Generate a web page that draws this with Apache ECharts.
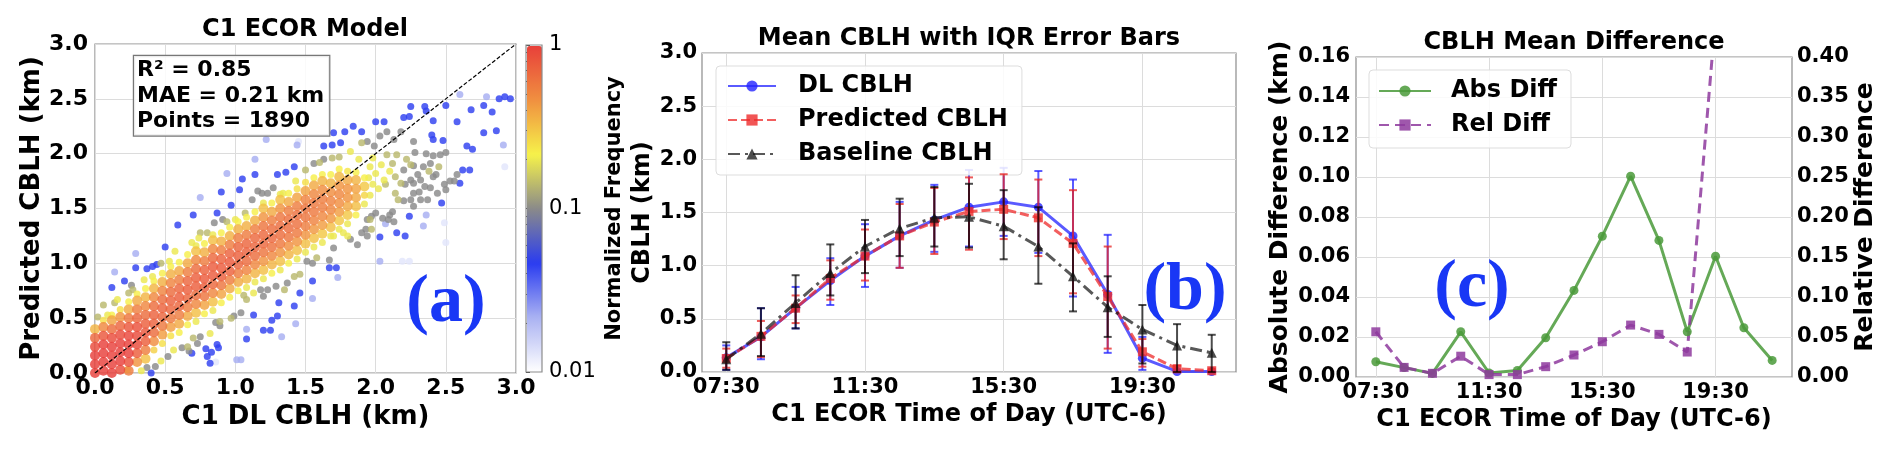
<!DOCTYPE html>
<html><head><meta charset="utf-8">
<script src="https://cdn.jsdelivr.net/npm/echarts@6/dist/echarts.min.js"></script>
<style>html,body{margin:0;padding:0;background:#fff}#c{width:1892px;height:452px}</style>
</head><body><div id="c"></div><script>
// ---------- Panel (a) data: [x, [y...], [normalized frequency...]] columns of the dense band ----------
const bandColumns = [
 [0.00,[0.00,0.08,0.16,0.24,0.32,0.40],[1,1,1,.9,.7,.35]],
 [0.06,[0.02,0.10,0.18,0.26,0.34,0.42,0.48],[1,1,1,1,.8,.5,.25]],
 [0.12,[0.00,0.08,0.16,0.24,0.32,0.40,0.48,0.53],[1,1,1,1,.9,.65,.4,.22]],
 [0.18,[0.03,0.11,0.19,0.27,0.35,0.43,0.51,0.58],[.9,1,1,1,.9,.7,.45,.25]],
 [0.24,[0.02,0.10,0.18,0.26,0.34,0.42,0.50,0.58,0.65],[.55,.85,1,1,.95,.8,.6,.38,.22]],
 [0.30,[0.10,0.18,0.26,0.34,0.42,0.50,0.58,0.66,0.72],[.45,.75,.9,.9,.85,.7,.55,.38,.22]],
 [0.36,[0.13,0.21,0.29,0.37,0.45,0.53,0.61,0.69,0.77],[.32,.55,.75,.8,.75,.65,.5,.35,.22]],
 [0.42,[0.21,0.29,0.37,0.45,0.53,0.61,0.69,0.77,0.84],[.28,.48,.65,.72,.72,.65,.5,.35,.22]],
 [0.48,[0.27,0.35,0.43,0.51,0.59,0.67,0.75,0.83,0.91],[.25,.42,.58,.7,.72,.66,.52,.36,.22]],
 [0.54,[0.34,0.42,0.50,0.58,0.66,0.74,0.82,0.90,0.97],[.25,.42,.58,.7,.72,.66,.52,.36,.22]],
 [0.60,[0.37,0.45,0.53,0.61,0.69,0.77,0.85,0.93,1.01],[.22,.38,.56,.7,.75,.7,.55,.38,.22]],
 [0.66,[0.44,0.52,0.60,0.68,0.76,0.84,0.92,1.00,1.08],[.22,.38,.56,.7,.75,.7,.55,.38,.22]],
 [0.72,[0.47,0.55,0.63,0.71,0.79,0.87,0.95,1.03,1.11,1.16],[.2,.32,.5,.65,.75,.75,.65,.5,.32,.2]],
 [0.78,[0.54,0.62,0.70,0.78,0.86,0.94,1.02,1.10,1.18],[.22,.4,.6,.75,.78,.72,.56,.36,.22]],
 [0.84,[0.57,0.65,0.73,0.81,0.89,0.97,1.05,1.13,1.21,1.26],[.2,.32,.5,.68,.78,.78,.68,.5,.32,.2]],
 [0.90,[0.64,0.72,0.80,0.88,0.96,1.04,1.12,1.20,1.28],[.22,.4,.6,.75,.78,.72,.56,.36,.22]],
 [0.96,[0.69,0.77,0.85,0.93,1.01,1.09,1.17,1.25,1.33],[.22,.38,.56,.72,.78,.72,.56,.36,.22]],
 [1.02,[0.75,0.83,0.91,0.99,1.07,1.15,1.23,1.31,1.38],[.22,.38,.56,.7,.74,.7,.56,.36,.22]],
 [1.08,[0.78,0.86,0.94,1.02,1.10,1.18,1.26,1.34,1.42],[.2,.35,.53,.67,.72,.7,.56,.36,.22]],
 [1.14,[0.83,0.91,0.99,1.07,1.15,1.23,1.31,1.39,1.47],[.2,.35,.5,.65,.7,.68,.55,.36,.22]],
 [1.20,[0.86,0.94,1.02,1.10,1.18,1.26,1.34,1.42,1.50,1.55],[.2,.32,.45,.6,.68,.68,.6,.45,.32,.2]],
 [1.26,[0.91,0.99,1.07,1.15,1.23,1.31,1.39,1.47,1.55],[.22,.35,.5,.62,.68,.65,.55,.38,.22]],
 [1.32,[0.94,1.02,1.10,1.18,1.26,1.34,1.42,1.50,1.58,1.63],[.2,.32,.45,.58,.65,.65,.6,.45,.32,.2]],
 [1.38,[1.00,1.08,1.16,1.24,1.32,1.40,1.48,1.56,1.64],[.22,.35,.48,.6,.65,.63,.55,.38,.22]],
 [1.44,[1.04,1.12,1.20,1.28,1.36,1.44,1.52,1.60,1.68],[.2,.32,.45,.58,.63,.63,.55,.4,.25]],
 [1.50,[1.10,1.18,1.26,1.34,1.42,1.50,1.58,1.66,1.74],[.2,.32,.45,.55,.6,.6,.53,.4,.25]],
 [1.56,[1.15,1.23,1.31,1.39,1.47,1.55,1.63,1.71,1.78],[.2,.32,.44,.53,.58,.58,.5,.38,.22]],
 [1.62,[1.19,1.27,1.35,1.43,1.51,1.59,1.67,1.75,1.81],[.2,.3,.42,.5,.55,.55,.48,.35,.22]],
 [1.68,[1.25,1.33,1.41,1.49,1.57,1.65,1.73,1.81],[.2,.32,.44,.5,.52,.48,.35,.22]],
 [1.74,[1.31,1.39,1.47,1.55,1.63,1.71,1.79,1.86],[.2,.3,.42,.48,.5,.45,.34,.22]],
 [1.80,[1.36,1.44,1.52,1.60,1.68,1.76,1.84],[.2,.3,.38,.45,.45,.38,.24]],
 [1.86,[1.44,1.52,1.60,1.68,1.76,1.83],[.22,.32,.38,.4,.35,.22]],
 [1.92,[1.54,1.62,1.70,1.78],[.2,.27,.3,.22]]
];
// Sparse points [x, y] grouped by their normalized frequency
const blueDensity = 0.045;
const bluePoints = [[2.25,2.43],[2.35,2.43],[2.36,2.39],[2.41,2.30],[2.50,2.44],[2.68,2.40],[2.58,2.29],[2.69,2.04],[2.65,2.07],[2.62,1.85],[2.60,1.73],[2.67,1.85],[2.40,2.17],[2.41,2.13],[2.48,2.12],[2.47,1.55],[2.24,1.43],[2.15,1.28],[2.21,1.25],[2.03,1.24],[2.00,2.29],[2.06,2.29],[2.20,2.33],[2.24,2.34],[1.90,2.20],[1.84,2.25],[1.78,2.20],[1.70,2.19],[1.63,2.07],[1.69,2.08],[1.75,2.10],[1.42,1.88],[1.36,1.83],[1.30,1.81],[1.14,1.81],[1.03,1.67],[1.05,1.77],[0.90,1.65],[0.97,1.53],[0.87,1.46],[0.70,1.44],[0.59,1.35],[0.50,1.15],[0.44,0.99],[0.41,0.97],[0.37,0.95],[0.29,0.96],[0.21,0.84],[0.12,0.78],[1.72,0.96],[1.67,0.96],[1.55,0.84],[1.46,0.73],[1.42,0.61],[1.31,0.64],[1.30,0.52],[1.26,0.48],[1.25,0.39],[1.20,0.39],[1.13,0.53],[1.08,0.31],[0.87,0.26],[0.88,0.23],[0.79,0.22],[0.83,0.19],[0.80,0.15],[0.82,0.09],[0.69,0.18],[0.40,0.00],[2.77,2.44],[2.83,2.38],[2.88,2.50],[2.92,2.52],[2.96,2.50],[2.77,2.19],[2.86,2.21]];
const lightBlueDensity = 0.022;
const lightBluePoints = [[2.60,2.54],[2.36,1.44],[1.22,2.13],[1.14,1.95],[0.94,1.82],[0.75,1.60],[0.29,1.09],[0.14,0.92],[1.73,0.87],[1.55,0.68],[1.43,0.45],[1.08,0.40],[1.04,0.12],[1.01,0.12],[1.33,0.33],[2.03,1.02],[2.34,1.34],[2.79,2.52],[2.91,2.08],[1.44,2.08],[2.07,1.36]];
const faintDensity = 0.013;
const faintPoints = [[1.27,2.22],[2.19,1.02],[2.24,1.02],[2.50,1.19],[2.49,1.37],[2.92,1.88],[1.45,2.11],[0.86,0.10]];
const grayDensity = 0.1;
const grayPoints = [[2.03,2.16],[2.08,2.20],[2.18,2.20],[2.13,2.13],[2.27,2.11],[2.28,2.01],[2.36,2.00],[2.41,1.98],[2.46,1.99],[2.50,2.01],[2.39,1.91],[2.34,1.88],[2.27,1.89],[2.20,1.85],[2.43,1.81],[2.41,1.79],[2.30,1.81],[2.25,1.76],[2.32,1.76],[2.27,1.73],[2.21,1.72],[2.35,1.70],[2.39,1.69],[2.44,1.64],[2.49,1.72],[2.53,1.75],[2.50,1.67],[2.56,1.75],[2.58,1.81],[2.27,1.64],[2.31,1.65],[2.20,1.57],[2.25,1.58],[2.32,1.58],[2.37,1.58],[2.27,1.52],[2.12,1.47],[2.05,1.41],[2.09,1.40],[2.13,1.38],[2.00,1.46],[1.94,1.40],[1.93,1.31],[1.90,1.28],[1.82,1.22],[1.87,1.17],[1.94,2.11],[1.99,2.07],[1.63,1.95],[1.56,1.91],[1.16,1.66],[1.19,1.64],[1.23,1.64],[1.27,1.69],[1.12,1.58],[0.91,1.40],[0.85,1.37],[0.26,0.80],[1.67,1.03],[1.94,1.25],[1.70,1.14],[1.51,1.02],[1.55,1.00],[1.37,0.82],[1.29,0.79],[1.23,0.76],[1.20,0.70],[1.18,0.76],[1.04,0.55],[0.99,0.52],[0.89,0.43],[0.86,0.46],[0.75,0.33],[0.73,0.27],[0.62,0.23],[0.52,0.15],[0.43,0.06],[0.37,0.05],[0.67,0.20],[1.97,1.43],[2.10,1.44]];
const oliveDensity = 0.14;
const olivePoints = [[1.90,2.10],[1.74,1.97],[1.69,1.96],[1.50,1.85],[1.07,1.46],[0.94,1.38],[0.80,1.28],[0.75,1.28],[0.47,1.00],[0.27,0.76],[0.24,0.73],[0.14,0.64],[0.06,0.62],[0.02,0.51],[1.96,1.40],[1.97,1.31],[1.58,1.05],[1.46,0.90],[1.42,0.88],[1.35,0.76],[1.08,0.67],[1.06,0.71],[0.97,0.50],[0.89,0.47],[0.70,0.32],[0.66,0.24],[2.08,1.99],[2.12,1.91],[2.15,1.99],[2.14,1.79],[2.18,1.73],[2.25,1.90],[2.07,1.72],[2.14,1.64],[2.16,1.58],[2.22,1.95],[2.38,1.84],[2.45,1.88],[1.60,1.92]];
const yellowDensity = 0.2;
const yellowPoints = [[1.82,2.02],[1.43,1.75],[1.34,1.64],[1.00,1.40],[0.74,1.23],[0.69,1.19],[0.57,1.11],[0.53,1.02],[0.41,0.88],[0.35,0.85],[0.16,0.67],[0.09,0.53],[1.80,1.25],[1.77,1.28],[1.13,0.73],[0.82,0.36],[0.56,0.21],[0.47,0.11],[0.33,0.02],[0.23,0.03],[1.96,1.62],[1.98,1.72],[2.00,1.82],[2.04,1.90],[1.96,1.88],[2.02,1.68],[2.06,1.76],[1.95,1.78],[2.10,1.84],[1.98,1.96],[1.88,1.95],[1.70,1.25]];
const statsLines = ['R\u00b2 = 0.85', 'MAE = 0.21 km', 'Points = 1890'];
const identityLine = [[0, 0], [3, 3]];
const colorbarTickValues = [0.01,0.02,0.03,0.04,0.05,0.06,0.07,0.08,0.09,0.1,0.2,0.3,0.4,0.5,0.6,0.7,0.8,0.9,1];
const colorbarLabelValues = [0.01, 0.1, 1];

// ---------- Panel (b) data ----------
const timeOfDay = ['07:30','08:30','09:30','10:30','11:30','12:30','13:30','14:30','15:30','16:30','17:30','18:30','19:30','20:30','21:30'];
const timeTicks = ['07:30','11:30','15:30','19:30'];
const dlMean   = [0.135,0.33,0.60,0.86,1.09,1.28,1.43,1.55,1.60,1.55,1.28,0.73,0.13,0.005,0.004];
const dlLow    = [0.02,0.12,0.41,0.63,0.80,0.98,1.13,1.18,1.28,1.12,0.71,0.18,0.02,0.00,0.00];
const dlHigh   = [0.25,0.60,0.80,1.07,1.39,1.60,1.76,1.90,1.92,1.89,1.81,1.29,0.33,0.02,0.01];
const predMean = [0.127,0.335,0.60,0.88,1.09,1.28,1.41,1.51,1.53,1.45,1.21,0.71,0.19,0.03,0.012];
const predLow  = [0.04,0.14,0.46,0.68,0.86,0.98,1.11,1.15,1.25,1.09,0.74,0.22,0.05,0.00,0.00];
const predHigh = [0.22,0.48,0.72,1.05,1.34,1.58,1.73,1.83,1.86,1.81,1.71,1.18,0.31,0.06,0.03];
const baseMean = [0.12,0.36,0.65,0.93,1.18,1.35,1.45,1.46,1.37,1.18,0.90,0.61,0.40,0.25,0.18];
const baseLow  = [0.02,0.15,0.41,0.72,0.93,1.09,1.18,1.17,1.06,0.83,0.57,0.33,0.08,0.00,0.00];
const baseHigh = [0.28,0.60,0.91,1.20,1.43,1.63,1.74,1.77,1.71,1.55,1.21,0.90,0.63,0.45,0.35];

// ---------- Panel (c) data ----------
const absDiff = [0.0076,0.0047,0.0018,0.0226,0.0020,0.0033,0.0196,0.0433,0.0704,0.1004,0.0683,0.0226,0.0604,0.0246,0.0083];
const relDiff = [0.0565,0.012,0.0046,0.026,0.003,0.003,0.0129,0.0275,0.0441,0.0649,0.0533,0.0312,0.45,5.0,3.0];

// ---------- build ----------
const FONT = 'DejaVu Sans';
const toHours = s => { const p = s.split(':').map(Number); return p[0] + p[1] / 60; };
const hourLabel = v => { const h = Math.floor(v + 1e-9), m = Math.round((v - h) * 60); return String(h).padStart(2,'0') + ':' + String(m).padStart(2,'0'); };
const hours = timeOfDay.map(toHours);
const tickHours = timeTicks.map(toHours);
const lg = v => Math.log10(v);

let scatterData = [];
bandColumns.forEach(c => c[1].forEach((y, i) => scatterData.push([c[0], y, lg(c[2][i])])));
[[bluePoints, blueDensity],[lightBluePoints, lightBlueDensity],[faintPoints, faintDensity],[grayPoints, grayDensity],[olivePoints, oliveDensity],[yellowPoints, yellowDensity]]
  .forEach(g => g[0].forEach(p => scatterData.push([p[0], p[1], lg(g[1])])));
scatterData.sort((a, b) => a[2] - b[2]);

const pairs = arr => hours.map((h, i) => [h, arr[i]]);
const errs = (lo, hi) => hours.map((h, i) => [h, lo[i], hi[i]]);

function errorBar(color) {
  return function (params, api) {
    const x = api.value(0);
    const a = api.coord([x, api.value(1)]), b = api.coord([x, api.value(2)]);
    const hw = 4, st = { stroke: color, lineWidth: 2 };
    return { type: 'group', children: [
      { type: 'line', shape: { x1: a[0], y1: a[1], x2: b[0], y2: b[1] }, style: st },
      { type: 'line', shape: { x1: a[0]-hw, y1: a[1], x2: a[0]+hw, y2: a[1] }, style: st },
      { type: 'line', shape: { x1: b[0]-hw, y1: b[1], x2: b[0]+hw, y2: b[1] }, style: st }
    ]};
  };
}

const tickFont = s => ({ fontFamily: FONT, fontWeight: 'bold', fontSize: s, color: '#000' });
const nameFont = s => ({ fontFamily: FONT, fontWeight: 'bold', fontSize: s, color: '#000' });
const split = { show: true, lineStyle: { color: '#dcdcdc', width: 1 } };
const noLine = { show: false };
const frame = { show: true, borderColor: '#8c8c8c', borderWidth: 1.2, backgroundColor: 'transparent' };
const txt = (x, y, text, size, extra) => ({ type: 'text', x: x, y: y, z: 100,
  style: Object.assign({ text: text, align: 'center', verticalAlign: 'middle', fontSize: size, fontWeight: 'bold', fontFamily: FONT, fill: '#000' }, extra || {}) });

const timeAxis = (grid, gap) => ({
  gridIndex: grid, type: 'value', min: 6.8, max: 22.2,
  axisLine: noLine, axisTick: { show: false, customValues: tickHours },
  axisLabel: { customValues: tickHours, formatter: hourLabel, margin: 5, ...tickFont(21) },
  splitLine: split,
  name: 'C1 ECOR Time of Day (UTC-6)', nameLocation: 'middle', nameGap: gap, nameTextStyle: nameFont(24)
});

const option = {
  animation: false,
  backgroundColor: '#fff',
  grid: [
    { left: 95, top: 44, width: 421, height: 329, ...frame },
    { left: 526, top: 45, width: 16, height: 327, ...frame, z: 10 },
    { left: 702, top: 53, width: 534, height: 319, ...frame },
    { left: 1356, top: 57, width: 436, height: 320, ...frame }
  ],
  xAxis: [
    { gridIndex: 0, type: 'value', min: 0, max: 3, interval: 0.5, axisLine: noLine, axisTick: { show: false },
      axisLabel: { formatter: v => v.toFixed(1), margin: 4, ...tickFont(22) }, splitLine: split,
      name: 'C1 DL CBLH (km)', nameLocation: 'middle', nameGap: 29, nameTextStyle: nameFont(26) },
    { gridIndex: 1, type: 'value', min: 0, max: 1, show: false },
    timeAxis(2, 28),
    timeAxis(3, 29)
  ],
  yAxis: [
    { gridIndex: 0, type: 'value', min: 0, max: 3, interval: 0.5, axisLine: noLine, axisTick: { show: false },
      axisLabel: { formatter: v => v.toFixed(1), margin: 7, ...tickFont(22) }, splitLine: split,
      name: 'Predicted CBLH (km)', nameLocation: 'middle', nameGap: 50, nameTextStyle: nameFont(26) },
    { gridIndex: 1, type: 'value', min: -2, max: 0, position: 'right', axisLine: noLine, splitLine: { show: false },
      axisTick: { show: true, inside: false, length: 4, customValues: colorbarTickValues.map(lg), lineStyle: { color: '#333', width: 1 } },
      axisLabel: { customValues: colorbarLabelValues.map(lg), formatter: v => String(+Math.pow(10, v).toPrecision(1)), margin: 7,
        fontFamily: FONT, fontSize: 21, color: '#000' },
      name: 'Normalized Frequency', nameLocation: 'middle', nameRotate: 90, nameGap: 62, nameTextStyle: nameFont(21) },
    { gridIndex: 2, type: 'value', min: 0, max: 3, interval: 0.5, axisLine: noLine, axisTick: { show: false },
      axisLabel: { formatter: v => v.toFixed(1), margin: 5, ...tickFont(21) }, splitLine: split,
      name: 'CBLH (km)', nameLocation: 'middle', nameGap: 47, nameTextStyle: nameFont(24) },
    { gridIndex: 3, type: 'value', min: 0, max: 0.16, interval: 0.02, axisLine: noLine, axisTick: { show: false },
      axisLabel: { formatter: v => v.toFixed(2), margin: 6, ...tickFont(21) }, splitLine: split,
      name: 'Absolute Difference (km)', nameLocation: 'middle', nameGap: 63, nameTextStyle: nameFont(25) },
    { gridIndex: 3, type: 'value', min: 0, max: 0.4, interval: 0.05, position: 'right', axisLine: noLine, axisTick: { show: false },
      axisLabel: { formatter: v => v.toFixed(2), margin: 5, ...tickFont(21) }, splitLine: { show: false },
      name: 'Relative Difference', nameLocation: 'middle', nameRotate: 90, nameGap: 58, nameTextStyle: nameFont(25) }
  ],
  visualMap: {
    type: 'continuous', seriesIndex: 0, dimension: 2, min: -2, max: 0,
    left: 527, top: 46, itemWidth: 15, itemHeight: 326, padding: 0, calculable: false, hoverLink: false,
    inRange: { color: ['#ffffff', '#aab2f2', '#2a3cf0', '#8a8a8a', '#f6f24a', '#f09040', '#e8403a'] }
  },
  legend: [
    { data: ['DL CBLH', 'Predicted CBLH', 'Baseline CBLH'], orient: 'vertical', left: 716, top: 66,
      padding: [8, 14, 9, 11], itemWidth: 48, itemHeight: 14, itemGap: 10,
      textStyle: { fontFamily: FONT, fontWeight: 'bold', fontSize: 24, color: '#000', padding: [0, 0, 0, 17] },
      backgroundColor: 'rgba(255,255,255,0.85)', borderColor: '#dddddd', borderWidth: 1, borderRadius: 4 },
    { data: ['Abs Diff', 'Rel Diff'], orient: 'vertical', left: 1369, top: 70,
      padding: [9, 14, 11, 9], itemWidth: 52, itemHeight: 14, itemGap: 10,
      textStyle: { fontFamily: FONT, fontWeight: 'bold', fontSize: 24, color: '#000', padding: [0, 0, 0, 15] },
      backgroundColor: 'rgba(255,255,255,0.85)', borderColor: '#dddddd', borderWidth: 1, borderRadius: 4 }
  ],
  graphic: [
    txt(305, 30, 'C1 ECOR Model', 24),
    txt(969, 39, 'Mean CBLH with IQR Error Bars', 24),
    txt(1574, 43, 'CBLH Mean Difference', 24),
    { type: 'text', x: 134, y: 56, z: 100, style: { text: statsLines.join('\n'), fontSize: 22, fontWeight: 'bold', fontFamily: FONT,
      lineHeight: 25.5, fill: '#000', backgroundColor: 'rgba(255,255,255,0.85)', borderColor: '#777', borderWidth: 1.2, padding: [2, 5, 1, 3] } },
    txt(446, 303, '(a)', 68, { fontFamily: 'Liberation Serif', fill: '#1937f5' }),
    txt(1185, 291, '(b)', 68, { fontFamily: 'Liberation Serif', fill: '#1937f5' }),
    txt(1472, 288, '(c)', 68, { fontFamily: 'Liberation Serif', fill: '#1937f5' })
  ],
  series: [
    { type: 'scatter', xAxisIndex: 0, yAxisIndex: 0, data: scatterData,
      symbolSize: v => (v[2] >= lg(0.3) ? 10 : 7), itemStyle: { opacity: 0.82 }, z: 2 },
    { type: 'line', xAxisIndex: 0, yAxisIndex: 0, data: identityLine, symbol: 'none', z: 5,
      lineStyle: { color: '#000', width: 1.2, type: [4, 2] } },
    { type: 'custom', name: 'dlErr', xAxisIndex: 2, yAxisIndex: 2, data: errs(dlLow, dlHigh), renderItem: errorBar('rgba(35,35,255,0.75)'), z: 3 },
    { type: 'line', name: 'DL CBLH', xAxisIndex: 2, yAxisIndex: 2, data: pairs(dlMean), symbol: 'circle', symbolSize: 9, showAllSymbol: true, z: 3,
      itemStyle: { color: '#2323ff', opacity: 0.8 }, lineStyle: { color: '#2323ff', width: 3, opacity: 0.75 } },
    { type: 'custom', name: 'predErr', xAxisIndex: 2, yAxisIndex: 2, data: errs(predLow, predHigh), renderItem: errorBar('rgba(230,35,35,0.75)'), z: 4 },
    { type: 'line', name: 'Predicted CBLH', xAxisIndex: 2, yAxisIndex: 2, data: pairs(predMean), symbol: 'rect', symbolSize: 9, showAllSymbol: true, z: 4,
      itemStyle: { color: '#ee2a2a', opacity: 0.8 }, lineStyle: { color: '#ee2a2a', width: 3, opacity: 0.75, type: [9, 4] } },
    { type: 'custom', name: 'baseErr', xAxisIndex: 2, yAxisIndex: 2, data: errs(baseLow, baseHigh), renderItem: errorBar('rgba(0,0,0,0.7)'), z: 5 },
    { type: 'line', name: 'Baseline CBLH', xAxisIndex: 2, yAxisIndex: 2, data: pairs(baseMean), symbol: 'triangle', symbolSize: 10, showAllSymbol: true, z: 5,
      itemStyle: { color: '#111', opacity: 0.75 }, lineStyle: { color: '#111', width: 3, opacity: 0.7, type: [12, 5, 3, 5] } },
    { type: 'line', name: 'Abs Diff', xAxisIndex: 3, yAxisIndex: 3, data: pairs(absDiff), symbol: 'circle', symbolSize: 9, showAllSymbol: true,
      itemStyle: { color: '#4a9a3a', opacity: 0.85 }, lineStyle: { color: '#4a9a3a', width: 3, opacity: 0.85 } },
    { type: 'line', name: 'Rel Diff', xAxisIndex: 3, yAxisIndex: 4, data: pairs(relDiff), symbol: 'rect', symbolSize: 9, showAllSymbol: true,
      itemStyle: { color: '#8e3a9e', opacity: 0.85 }, lineStyle: { color: '#8e3a9e', width: 3, opacity: 0.85, type: [10, 6] } }
  ]
};
const chart = echarts.init(document.getElementById('c'), null, { renderer: 'canvas' });
chart.setOption(option);
</script></body></html>
